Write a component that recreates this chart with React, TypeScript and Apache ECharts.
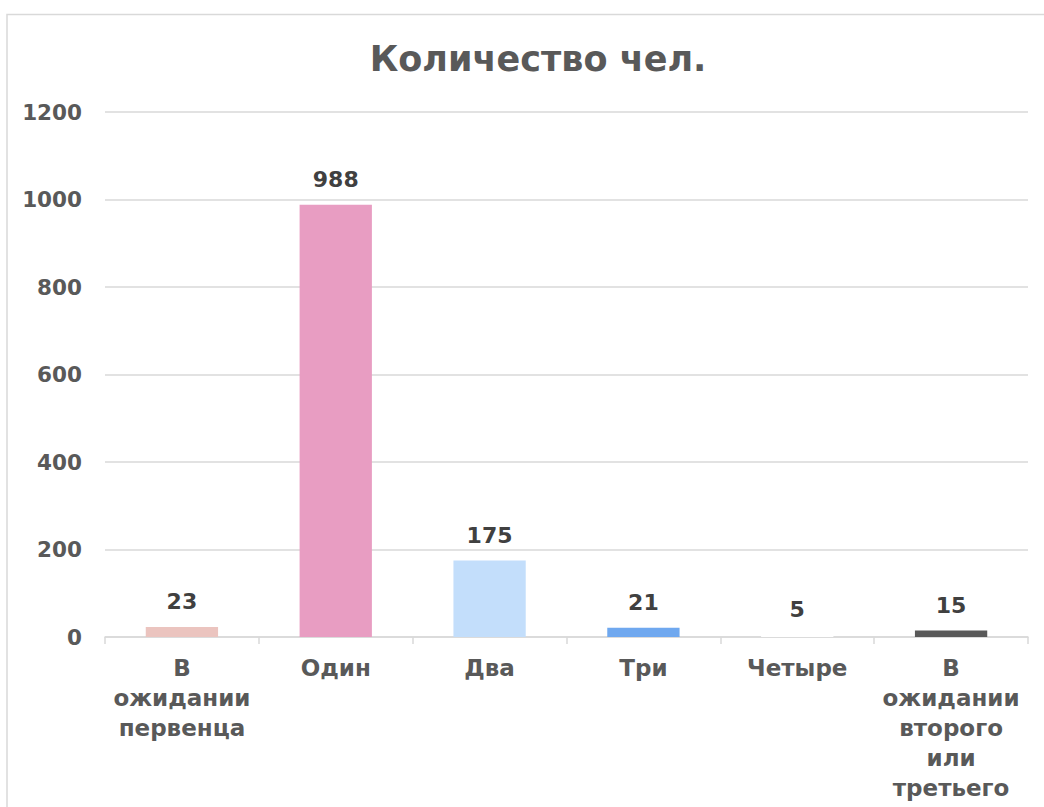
import React, { useEffect, useRef } from "react";
import * as echarts from "echarts";

const categories = [
  "В ожидании первенца",
  "Один",
  "Два",
  "Три",
  "Четыре",
  "В ожидании второго или третьего",
];
const values = [23, 988, 175, 21, 5, 15];
const barColors = ["#EBC4BF", "#E89DC2", "#C3DEFB", "#6FA8EF", "#FFFFFF", "#595959"];
const yTicks = [0, 200, 400, 600, 800, 1000, 1200];
const titleText = "Количество чел.";

const FONT = "'DejaVu Sans', sans-serif";

export default function App() {
  const ref = useRef<HTMLDivElement>(null);
  useEffect(() => {
    if (!ref.current) return;
    const chart = echarts.init(ref.current, undefined, { renderer: "svg" });
    chart.setOption({
      animation: false,
      backgroundColor: "#FFFFFF",
      title: {
        text: titleText,
        left: 533,
        textAlign: "center",
        top: 36,
        textStyle: { fontFamily: FONT, fontSize: 35, fontWeight: "bold", color: "#595959" },
      },
      graphic: [
        {
          type: "polyline",
          shape: { points: [[7, 810], [7, 14.5], [1050, 14.5]] },
          style: { stroke: "#D9D9D9", lineWidth: 1.5, fill: "none" },
          silent: true,
        },
      ],
      grid: { left: 105, right: 16, top: 112, bottom: 170, containLabel: false },
      xAxis: {
        type: "category",
        data: categories,
        axisLine: { show: true, lineStyle: { color: "#D9D9D9", width: 1.5 } },
        axisTick: { show: true, length: 7, lineStyle: { color: "#D9D9D9", width: 1.5 } },
        axisLabel: {
          interval: 0,
          margin: 16,
          fontFamily: FONT,
          fontSize: 23,
          fontWeight: "bold",
          color: "#595959",
          lineHeight: 30,
          formatter: (v: string) => v.split(" ").join("\n"),
        },
      },
      yAxis: {
        type: "value",
        min: yTicks[0],
        max: yTicks[yTicks.length - 1],
        interval: 200,
        axisLine: { show: false },
        axisTick: { show: false },
        splitLine: { lineStyle: { color: "#D9D9D9", width: 1.5 } },
        axisLabel: {
          margin: 23,
          fontFamily: FONT,
          fontSize: 21.5,
          fontWeight: "bold",
          color: "#595959",
          formatter: (v: number) => String(v),
        },
      },
      series: [
        {
          type: "bar",
          data: values.map((v, i) => ({ value: v, itemStyle: { color: barColors[i] } })),
          barWidth: "47%",
          label: {
            show: true,
            position: "top",
            distance: 14,
            fontFamily: FONT,
            fontSize: 22,
            fontWeight: "bold",
            color: "#404040",
          },
        },
      ],
    });
    return () => chart.dispose();
  }, []);
  return (
    <div
      ref={ref}
      style={{ position: "fixed", left: 0, top: 0, width: 1044, height: 807 }}
    />
  );
}
